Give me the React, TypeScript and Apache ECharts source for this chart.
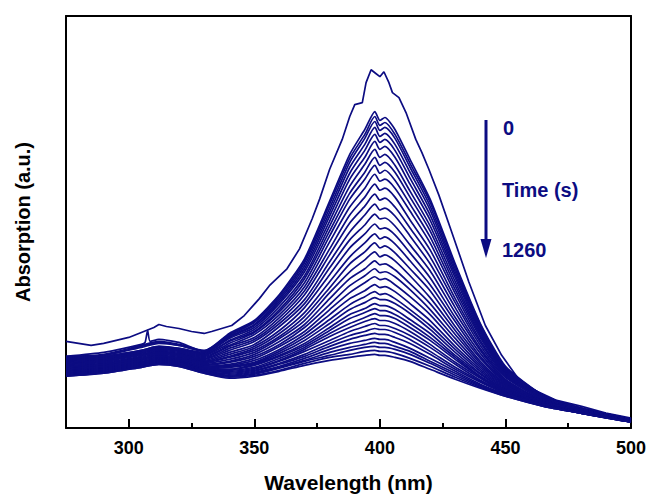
import React, { useEffect, useRef } from "react";
import * as echarts from "echarts";

// Wavelength grid (nm) shared by most scans
const wavelengths = [275, 290, 305, 312, 320, 330, 340, 350, 360, 370, 380, 388, 394, 398, 400, 402, 406, 412, 420, 430, 440, 450, 465, 480, 500];

// First scan (t = 0 s), read with finer sampling
const firstScanWl = [275, 280, 285, 290, 295, 300, 305, 310, 312, 315, 320, 325, 330, 333, 341, 346, 352, 356, 363, 368, 373, 376, 380, 385, 388, 390, 393, 394.5, 396.5, 398, 400, 401.6, 403.6, 405, 407.6, 410.4, 414.3, 416.7, 419.5, 423.5, 428.6, 435.4, 442, 448.5, 455, 460, 470, 480, 490, 500];
const firstScan = [87, 85, 83, 85, 88, 91, 96, 101, 104, 102, 100, 97, 95, 97, 103, 113, 130, 143, 160, 180, 210, 230, 260, 290, 313, 325, 327, 347, 360, 357, 353, 358, 347, 337, 332, 317, 290, 277, 260, 234, 197, 147, 103, 73, 50, 40, 28, 22, 15, 10];

// Second scan, with the small spike near 307 nm
const secondScanWl = [275, 290, 305, 306.5, 307.5, 308.5, 312, 320, 330, 340, 350, 360, 370, 380, 388, 394, 398, 400, 402, 406, 412, 420, 430, 440, 450, 465, 480, 500];
const secondScan = [72, 76, 84, 86, 98, 87, 89, 86, 77, 95, 108, 134, 170, 228, 275, 300, 318, 309, 312, 300, 270, 230, 165, 105, 62, 33, 20, 9];

// Later scans (absorbance, a.u. x100), on the shared grid
const laterScans = [
  [72, 74, 83, 87, 84, 78, 94, 107, 133, 168, 225, 271, 295, 313, 304, 307, 295, 266, 227, 163, 104, 61, 33, 20, 9],
  [71, 73, 82, 86, 83, 77, 93, 106, 131, 166, 221, 267, 291, 308, 299, 302, 291, 262, 223, 160, 102, 61, 33, 20, 9],
  [71, 73, 81, 85, 83, 77, 92, 104, 129, 163, 217, 262, 285, 302, 293, 296, 285, 257, 219, 157, 101, 60, 32, 20, 9],
  [70, 72, 78, 82, 80, 76, 91, 103, 127, 160, 213, 256, 279, 295, 287, 290, 279, 251, 214, 154, 99, 59, 32, 20, 9],
  [70, 72, 78, 82, 80, 75, 90, 101, 125, 157, 208, 250, 272, 288, 280, 283, 272, 245, 209, 151, 97, 58, 32, 19, 9],
  [69, 71, 77, 81, 79, 74, 88, 99, 122, 153, 203, 243, 265, 280, 272, 275, 264, 238, 203, 147, 95, 57, 31, 19, 9],
  [68, 70, 76, 80, 78, 74, 87, 97, 119, 150, 198, 236, 257, 272, 264, 267, 257, 232, 198, 143, 93, 56, 31, 19, 8],
  [68, 70, 76, 80, 78, 73, 85, 96, 117, 146, 193, 230, 250, 264, 256, 259, 249, 225, 192, 139, 91, 55, 31, 19, 8],
  [67, 69, 75, 79, 77, 72, 83, 94, 114, 142, 187, 222, 241, 255, 248, 250, 241, 218, 186, 135, 88, 54, 30, 19, 8],
  [66, 68, 74, 78, 76, 71, 82, 91, 111, 138, 180, 214, 232, 245, 239, 241, 232, 209, 179, 130, 86, 53, 30, 19, 8],
  [65, 68, 74, 77, 75, 70, 80, 89, 108, 134, 174, 206, 223, 235, 229, 231, 222, 201, 172, 126, 83, 52, 29, 18, 8],
  [64, 67, 73, 76, 74, 69, 78, 87, 105, 129, 167, 197, 214, 225, 219, 221, 213, 193, 165, 121, 80, 51, 29, 18, 8],
  [64, 66, 72, 76, 74, 68, 76, 84, 102, 125, 161, 189, 204, 215, 210, 211, 203, 184, 158, 116, 78, 49, 28, 18, 8],
  [63, 65, 71, 75, 73, 67, 74, 82, 98, 121, 154, 181, 195, 205, 200, 201, 194, 176, 151, 111, 75, 48, 28, 18, 8],
  [62, 64, 70, 74, 72, 66, 72, 80, 95, 116, 147, 172, 186, 195, 190, 192, 185, 168, 144, 107, 72, 47, 27, 18, 8],
  [61, 64, 70, 73, 71, 66, 71, 78, 92, 112, 141, 165, 177, 186, 181, 183, 176, 160, 138, 102, 70, 46, 27, 17, 7],
  [60, 63, 69, 72, 70, 65, 69, 76, 90, 108, 136, 157, 169, 177, 172, 174, 168, 153, 131, 98, 67, 45, 27, 17, 7],
  [60, 62, 68, 72, 70, 64, 67, 74, 87, 104, 130, 150, 160, 168, 164, 165, 159, 145, 125, 94, 65, 44, 26, 17, 7],
  [59, 62, 68, 71, 69, 63, 66, 72, 84, 101, 124, 143, 153, 160, 156, 157, 152, 139, 119, 90, 63, 43, 26, 17, 7],
  [58, 61, 67, 70, 68, 62, 64, 70, 82, 97, 119, 136, 146, 152, 149, 150, 144, 132, 114, 86, 61, 42, 26, 17, 7],
  [58, 60, 66, 70, 68, 62, 63, 68, 79, 94, 114, 130, 138, 144, 141, 142, 137, 125, 108, 82, 59, 41, 25, 16, 7],
  [57, 60, 66, 69, 67, 61, 62, 66, 77, 91, 109, 124, 132, 137, 134, 135, 130, 119, 103, 79, 57, 40, 25, 16, 7],
  [57, 59, 65, 69, 67, 60, 61, 65, 75, 88, 105, 119, 126, 131, 129, 129, 125, 115, 99, 76, 55, 39, 25, 16, 7],
  [56, 59, 65, 68, 66, 60, 59, 64, 73, 85, 101, 114, 120, 125, 123, 123, 119, 109, 95, 73, 54, 38, 24, 16, 7],
  [56, 59, 65, 68, 66, 59, 59, 63, 72, 83, 98, 110, 116, 120, 118, 118, 114, 105, 91, 71, 52, 38, 24, 16, 7],
  [55, 58, 64, 67, 65, 59, 58, 61, 70, 81, 95, 105, 111, 115, 113, 113, 110, 101, 88, 69, 51, 37, 24, 16, 7],
  [55, 58, 64, 67, 65, 58, 57, 60, 68, 79, 92, 101, 107, 110, 108, 108, 105, 97, 84, 66, 50, 36, 24, 16, 6],
  [55, 57, 63, 67, 65, 58, 56, 59, 67, 77, 88, 97, 102, 105, 103, 103, 100, 93, 81, 64, 48, 36, 23, 16, 6],
  [54, 57, 63, 66, 64, 57, 55, 58, 65, 74, 85, 93, 97, 100, 99, 99, 96, 89, 77, 61, 47, 35, 23, 16, 6],
  [54, 57, 63, 66, 64, 57, 54, 57, 64, 72, 82, 89, 93, 95, 94, 94, 91, 85, 74, 59, 46, 35, 23, 15, 6],
  [53, 56, 62, 65, 63, 57, 53, 56, 62, 70, 79, 85, 88, 90, 89, 89, 86, 80, 70, 57, 44, 34, 23, 15, 6],
  [53, 56, 62, 65, 63, 56, 52, 55, 61, 68, 76, 81, 84, 86, 85, 85, 82, 77, 67, 55, 43, 34, 23, 15, 6],
  [53, 56, 62, 65, 63, 56, 52, 54, 60, 67, 73, 78, 81, 82, 81, 81, 79, 74, 65, 53, 42, 33, 22, 15, 6],
  [52, 55, 61, 64, 62, 55, 51, 53, 58, 65, 71, 74, 77, 78, 77, 77, 75, 70, 62, 51, 41, 32, 22, 15, 6],
  [52, 55, 61, 64, 62, 55, 50, 52, 57, 63, 68, 71, 73, 74, 73, 73, 71, 67, 59, 49, 40, 32, 22, 15, 6],
];

const timeLabels = ["0", "Time (s)", "1260"];

const NAVY = "#0c0c82";
const FONT = "'Liberation Sans', Arial, sans-serif";

export default function App() {
  const ref = useRef<HTMLDivElement>(null);

  useEffect(() => {
    if (!ref.current) return;
    const chart = echarts.init(ref.current, null, { renderer: "svg" });

    const lineSeries = (wl: number[], vals: number[], smooth: number | boolean) => ({
      type: "line",
      data: wl.map((w, i) => [w, vals[i]]),
      showSymbol: false,
      smooth,
      silent: true,
      lineStyle: { color: NAVY, width: 1.7 },
      itemStyle: { color: NAVY },
    });

    const series: any[] = [
      lineSeries(firstScanWl, firstScan, false),
      lineSeries(secondScanWl, secondScan, 0.2),
      ...laterScans.map((s) => lineSeries(wavelengths, s, 0.25)),
    ];

    const textStyle = { fontFamily: FONT, fontWeight: "bold" as const, fill: NAVY, fontSize: 20, verticalAlign: "middle" as const };
    const frameLine = { show: true, onZero: false, lineStyle: { color: "#000", width: 2 } };
    const noSplit = { show: false };

    chart.setOption({
      animation: false,
      grid: { left: 66, right: 16, top: 16, bottom: 68 },
      xAxis: [
        {
          type: "value",
          min: 275,
          max: 500,
          interval: 25,
          position: "bottom",
          axisLine: frameLine,
          axisTick: { show: true, inside: true, length: 5, lineStyle: { color: "#000", width: 2 } },
          axisLabel: {
            formatter: (v: number) => (v % 50 === 0 ? String(v) : ""),
            color: "#000",
            fontSize: 18,
            fontWeight: "bold",
            fontFamily: FONT,
            margin: 11,
          },
          splitLine: noSplit,
          name: "Wavelength (nm)",
          nameLocation: "middle",
          nameGap: 44,
          nameTextStyle: { color: "#000", fontSize: 21, fontWeight: "bold", fontFamily: FONT },
        },
        {
          type: "value",
          min: 275,
          max: 500,
          position: "bottom",
          axisLine: { show: false },
          axisTick: { show: true, inside: true, length: 9, lineStyle: { color: "#000", width: 2 } },
          axisLabel: { show: false },
          splitLine: noSplit,
        },
        {
          type: "value",
          min: 275,
          max: 500,
          position: "top",
          axisLine: frameLine,
          axisTick: { show: false },
          axisLabel: { show: false },
          splitLine: noSplit,
        },
      ],
      yAxis: [
        {
          type: "value",
          min: 0,
          max: 414,
          position: "left",
          axisLine: frameLine,
          axisTick: { show: false },
          axisLabel: { show: false },
          splitLine: noSplit,
          name: "Absorption (a.u.)",
          nameLocation: "middle",
          nameGap: 33,
          nameTextStyle: { color: "#000", fontSize: 20, fontWeight: "bold", fontFamily: FONT },
        },
        {
          type: "value",
          min: 0,
          max: 414,
          position: "right",
          axisLine: frameLine,
          axisTick: { show: false },
          axisLabel: { show: false },
          splitLine: noSplit,
        },
      ],
      series,
      graphic: [
        { type: "line", shape: { x1: 486, y1: 120, x2: 486, y2: 244 }, style: { stroke: NAVY, lineWidth: 3 } },
        { type: "polygon", shape: { points: [[480.5, 239], [491.5, 239], [486, 258]] }, style: { fill: NAVY } },
        { type: "text", x: 503, y: 128, style: { ...textStyle, text: timeLabels[0] } },
        { type: "text", x: 502, y: 190, style: { ...textStyle, text: timeLabels[1] } },
        { type: "text", x: 502, y: 250, style: { ...textStyle, text: timeLabels[2] } },
      ],
    });

    return () => chart.dispose();
  }, []);

  return (
    <div
      ref={ref}
      style={{ position: "absolute", left: 0, top: 0, width: 649, height: 498, background: "#fff" }}
    />
  );
}
